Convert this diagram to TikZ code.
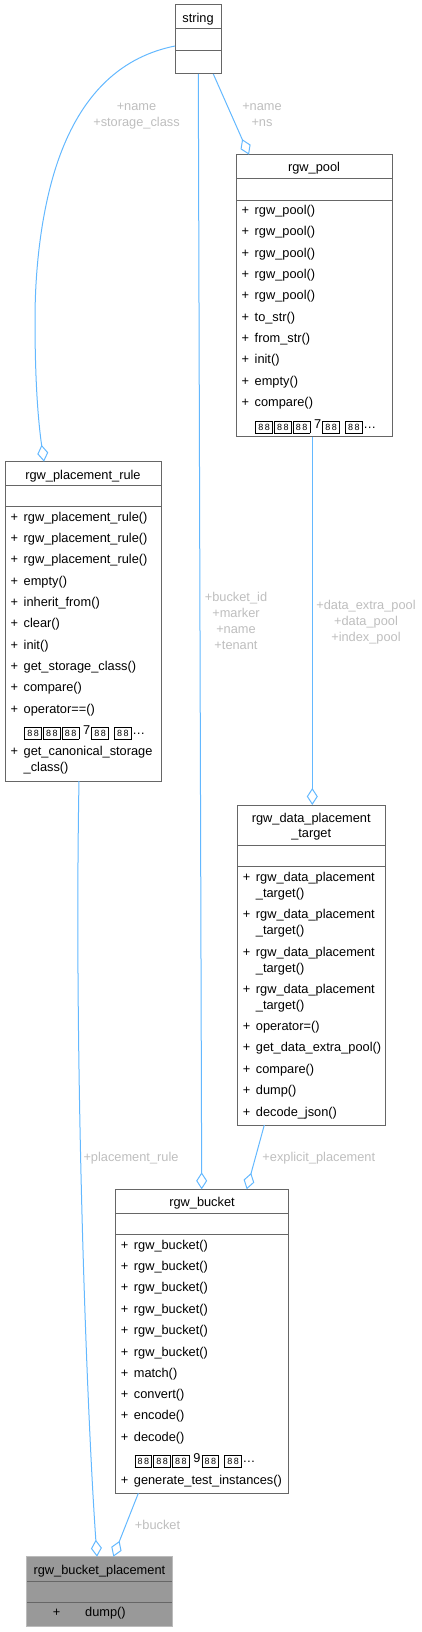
\documentclass[tikz,border=0pt]{standalone}
\usepackage{fontspec}
\setmainfont{Liberation Sans}
\usetikzlibrary{arrows.meta,calc}
\definecolor{edgeblue}{HTML}{63B8FF}
\definecolor{lblgray}{HTML}{BEBEBE}
\definecolor{boxline}{HTML}{666666}
\definecolor{rootline}{HTML}{BBBBBB}
\definecolor{rootfill}{HTML}{999999}
\newcommand\fs{\fontsize{12.8}{16}\selectfont}
\newcommand\tofu{\kern0.7pt\raisebox{-2.1pt}{\fboxsep=0pt\fboxrule=0.7pt\fbox{\parbox[c][11.4pt][c]{16pt}{\centering\fontsize{9}{9}\selectfont 8\kern1.5pt8}}}\kern0.7pt}
\newcommand\moretxt[1]{\tofu\tofu\tofu\kern3pt#1\kern0.5pt\tofu\kern4pt\tofu…}
\newcommand\mrow[4]{\node[mtext] (#1) at (#2,#3) {\makebox[13pt][l]{+}#4};}
\newcommand\crow[4]{\node[mtext] (#1) at (#2+13,#3) {#4};}
\begin{document}
\begin{tikzpicture}[x=1pt,y=-1pt,
  cls/.style={draw=boxline, line width=1pt, fill=white, inner sep=0pt, outer sep=0pt, anchor=north west},
  sepline/.style={draw=boxline, line width=1pt},
  mtext/.style={inner sep=0pt, anchor=base west, font=\fs},
  ttl/.style={inner sep=0pt, anchor=base, font=\fs},
  lbl/.style={inner sep=0pt, anchor=base, font=\fs, text=lblgray, align=center},
  conn/.style={draw=edgeblue, line width=1pt, -{Diamond[open,length=17pt,width=11pt]}},
]
\useasboundingbox (0,0) rectangle (422,1632);

% ---- string
\node[cls, minimum width=46pt, minimum height=69pt] (string) at (175,5) {};
\draw[sepline] ($(string.north west)+(0,24)$) -- ($(string.north east)+(0,24)$);
\draw[sepline] ($(string.north west)+(0,45.7)$) -- ($(string.north east)+(0,45.7)$);
\node[ttl] (string-t) at (198,22.8) {string};

% ---- rgw_pool
\node[cls, minimum width=156pt, minimum height=282pt] (pool) at (236,154.7) {};
\draw[sepline] ($(pool.north west)+(0,24)$) -- ($(pool.north east)+(0,24)$);
\draw[sepline] ($(pool.north west)+(0,45.6)$) -- ($(pool.north east)+(0,45.6)$);
\node[ttl] (pool-t) at (314,172) {rgw\_pool};
\mrow{pool-1}{241.5}{214.3}{rgw\_pool()}
\mrow{pool-2}{241.5}{235.7}{rgw\_pool()}
\mrow{pool-3}{241.5}{257.0}{rgw\_pool()}
\mrow{pool-4}{241.5}{278.3}{rgw\_pool()}
\mrow{pool-5}{241.5}{299.6}{rgw\_pool()}
\mrow{pool-6}{241.5}{321.0}{to\_str()}
\mrow{pool-7}{241.5}{342.3}{from\_str()}
\mrow{pool-8}{241.5}{363.6}{init()}
\mrow{pool-9}{241.5}{385.0}{empty()}
\mrow{pool-10}{241.5}{406.3}{compare()}
\crow{pool-more}{241.5}{428.3}{\moretxt{7}}

% ---- rgw_placement_rule
\node[cls, minimum width=156.3pt, minimum height=319.3pt] (rule) at (5,461.7) {};
\draw[sepline] ($(rule.north west)+(0,23.3)$) -- ($(rule.north east)+(0,23.3)$);
\draw[sepline] ($(rule.north west)+(0,45)$) -- ($(rule.north east)+(0,45)$);
\node[ttl] (rule-t) at (83,479.2) {rgw\_placement\_rule};
\mrow{rule-1}{10.5}{521.0}{rgw\_placement\_rule()}
\mrow{rule-2}{10.5}{542.3}{rgw\_placement\_rule()}
\mrow{rule-3}{10.5}{563.6}{rgw\_placement\_rule()}
\mrow{rule-4}{10.5}{585.0}{empty()}
\mrow{rule-5}{10.5}{606.3}{inherit\_from()}
\mrow{rule-6}{10.5}{627.6}{clear()}
\mrow{rule-7}{10.5}{649.0}{init()}
\mrow{rule-8}{10.5}{670.3}{get\_storage\_class()}
\mrow{rule-9}{10.5}{691.6}{compare()}
\mrow{rule-10}{10.5}{713.0}{operator==()}
\crow{rule-more}{10.5}{734.3}{\moretxt{7}}
\mrow{rule-11}{10.5}{755.6}{get\_canonical\_storage}
\crow{rule-11b}{10.5}{771.6}{\_class()}

% ---- rgw_data_placement_target
\node[cls, minimum width=148pt, minimum height=320pt] (target) at (237.2,805) {};
\draw[sepline] ($(target.north west)+(0,40)$) -- ($(target.north east)+(0,40)$);
\draw[sepline] ($(target.north west)+(0,61.7)$) -- ($(target.north east)+(0,61.7)$);
\node[ttl] (target-t1) at (311.2,822.4) {rgw\_data\_placement};
\node[ttl] (target-t2) at (311.2,837.6) {\_target};
\mrow{target-1}{242.7}{881.6}{rgw\_data\_placement}
\crow{target-1b}{242.7}{897.3}{\_target()}
\mrow{target-2}{242.7}{918.3}{rgw\_data\_placement}
\crow{target-2b}{242.7}{934.3}{\_target()}
\mrow{target-3}{242.7}{956.0}{rgw\_data\_placement}
\crow{target-3b}{242.7}{972.0}{\_target()}
\mrow{target-4}{242.7}{993.3}{rgw\_data\_placement}
\crow{target-4b}{242.7}{1009.3}{\_target()}
\mrow{target-5}{242.7}{1030.6}{operator=()}
\mrow{target-6}{242.7}{1051.6}{get\_data\_extra\_pool()}
\mrow{target-7}{242.7}{1073.3}{compare()}
\mrow{target-8}{242.7}{1094.3}{dump()}
\mrow{target-9}{242.7}{1116.0}{decode\_json()}

% ---- rgw_bucket
\node[cls, minimum width=173.5pt, minimum height=304pt] (bucket) at (115.2,1189.3) {};
\draw[sepline] ($(bucket.north west)+(0,24)$) -- ($(bucket.north east)+(0,24)$);
\draw[sepline] ($(bucket.north west)+(0,45.4)$) -- ($(bucket.north east)+(0,45.4)$);
\node[ttl] (bucket-t) at (202,1206.7) {rgw\_bucket};
\mrow{bucket-1}{120.7}{1249.0}{rgw\_bucket()}
\mrow{bucket-2}{120.7}{1270.4}{rgw\_bucket()}
\mrow{bucket-3}{120.7}{1291.8}{rgw\_bucket()}
\mrow{bucket-4}{120.7}{1313.2}{rgw\_bucket()}
\mrow{bucket-5}{120.7}{1334.6}{rgw\_bucket()}
\mrow{bucket-6}{120.7}{1356.0}{rgw\_bucket()}
\mrow{bucket-7}{120.7}{1377.2}{match()}
\mrow{bucket-8}{120.7}{1398.4}{convert()}
\mrow{bucket-9}{120.7}{1419.8}{encode()}
\mrow{bucket-10}{120.7}{1441.0}{decode()}
\crow{bucket-more}{120.7}{1462.6}{\moretxt{9}}
\mrow{bucket-11}{120.7}{1484.3}{generate\_test\_instances()}

% ---- rgw_bucket_placement (root)
\node[cls, draw=rootline, fill=rootfill, minimum width=145.3pt, minimum height=70pt] (root) at (26.7,1556.7) {};
\draw[sepline] ($(root.north west)+(0.5,24.3)$) -- ($(root.north east)+(-0.5,24.3)$);
\draw[sepline] ($(root.north west)+(0.5,46)$) -- ($(root.north east)+(-0.5,46)$);
\node[ttl] (root-t) at (99.4,1574) {rgw\_bucket\_placement};
\node[ttl] (root-plus) at (56.7,1616.6) {+};
\node[mtext] (root-1) at (85,1616.6) {dump()};

% ---- connectors
\draw[conn] ($(string.north west)+(0,41)$) .. controls (125,56) and (80,90) .. (55,170)
  .. controls (42,212) and (35,265) .. (35,320)
  .. controls (35,380) and (38,420) .. ($(rule.north west)+(39,0)$);
\draw[conn] ($(string.south west)+(23.3,0)$) -- ($(bucket.north west)+(86.5,0)$);
\draw[conn] ($(string.south west)+(38.3,0)$) -- ($(pool.north west)+(13,0)$);
\draw[conn] ($(pool.south west)+(76.3,0)$) -- ($(target.north west)+(75.1,0)$);
\draw[conn] ($(rule.south west)+(74,0)$) .. controls (74,1050) and (86,1400) .. ($(root.north west)+(70.3,0)$);
\draw[conn] ($(target.south west)+(27.1,0)$) -- ($(bucket.north west)+(131.5,0)$);
\draw[conn] ($(bucket.south west)+(23.1,0)$) -- ($(root.north west)+(86.6,0)$);

% ---- labels (base anchor = baseline of the last line)
\node[lbl] (l-rule) at (136.5,126.5) {+name\\+storage\_class};
\node[lbl] (l-pool) at (262,126.5) {+name\\+ns};
\node[lbl] (l-bucket) at (236,649) {+bucket\_id\\+marker\\+name\\+tenant};
\node[lbl] (l-target) at (366,641) {+data\_extra\_pool\\+data\_pool\\+index\_pool};
\node[lbl] (l-prule) at (131,1161) {+placement\_rule};
\node[lbl] (l-expl) at (318.8,1161) {+explicit\_placement};
\node[lbl] (l-bkt) at (157.5,1529) {+bucket};
\end{tikzpicture}
\end{document}
